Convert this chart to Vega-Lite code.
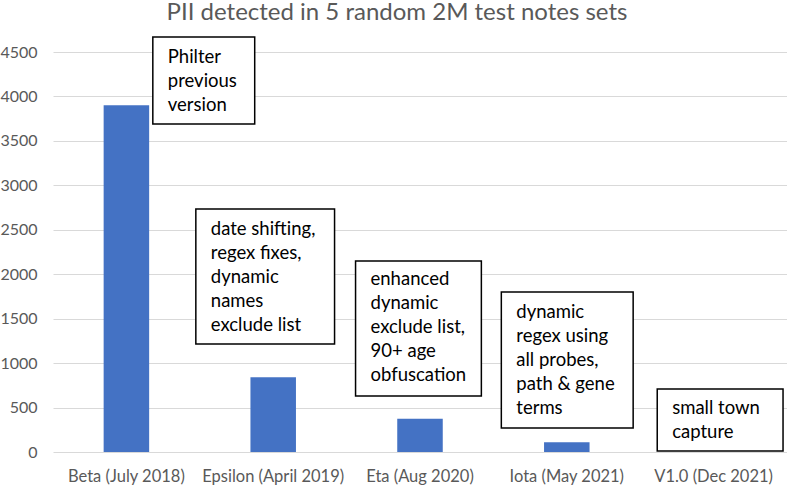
{
  "$schema": "https://vega.github.io/schema/vega-lite/v6.json",
  "width": 734,
  "height": 400,
  "autosize": {"type": "none"},
  "padding": {"left": 53, "top": 52, "right": 0, "bottom": 34},
  "background": "white",
  "title": {
    "text": "PII detected in 5 random 2M test notes sets",
    "font": "Lato",
    "fontSize": 24,
    "fontWeight": "normal",
    "color": "#595959",
    "anchor": "middle",
    "dx": -23,
    "offset": 11
  },
  "config": {
    "view": {"stroke": null},
    "font": "Lato"
  },
  "datasets": {
    "bars": [
      {"release": "Beta (July 2018)", "pii": 3900},
      {"release": "Epsilon (April 2019)", "pii": 840},
      {"release": "Eta (Aug 2020)", "pii": 375},
      {"release": "Iota (May 2021)", "pii": 110},
      {"release": "V1.0 (Dec 2021)", "pii": 0}
    ],
    "notes": [
      {"note": "Philter\nprevious\nversion", "left": 0.68, "right": 1.374, "top": 4669, "bottom": 3690, "textx": 0.782, "texty": 4444},
      {"note": "date shifting,\nregex fixes,\ndynamic\nnames\nexclude list", "left": 0.973, "right": 1.918, "top": 2734, "bottom": 1215, "textx": 1.075, "texty": 2509},
      {"note": "enhanced\ndynamic\nexclude list,\n90+ age\nobfuscation", "left": 2.061, "right": 2.918, "top": 2149, "bottom": 630, "textx": 2.163, "texty": 1946},
      {"note": "dynamic\nregex using\nall probes,\npath & gene\nterms", "left": 3.054, "right": 3.952, "top": 1800, "bottom": 270, "textx": 3.156, "texty": 1575},
      {"note": "small town\ncapture", "left": 4.116, "right": 4.973, "top": 709, "bottom": 11, "textx": 4.218, "texty": 495}
    ]
  },
  "layer": [
    {
      "data": {"name": "bars"},
      "mark": {"type": "bar", "color": "#4472C4"},
      "encoding": {
        "x": {
          "field": "release",
          "type": "nominal",
          "sort": null,
          "title": null,
          "scale": {"paddingInner": 0.69, "paddingOuter": 0.345},
          "axis": {
            "labelAngle": 0,
            "labelFont": "Lato",
            "labelFontSize": 16.5,
            "labelColor": "#595959",
            "labelPadding": 16,
            "ticks": false,
            "domain": false
          }
        },
        "y": {
          "field": "pii",
          "type": "quantitative",
          "title": null,
          "scale": {"domain": [0, 4500]},
          "axis": {
            "values": [0, 500, 1000, 1500, 2000, 2500, 3000, 3500, 4000, 4500],
            "labelFont": "Lato",
            "labelFontSize": 16,
            "labelColor": "#595959",
            "labelPadding": 16,
            "ticks": false,
            "domain": false,
            "grid": true,
            "gridColor": "#d9d9d9",
            "gridWidth": 1.2,
            "format": "d"
          }
        }
      }
    },
    {
      "data": {"name": "notes"},
      "mark": {"type": "rect", "fill": "white", "stroke": "black", "strokeWidth": 1.5},
      "encoding": {
        "x": {"field": "left", "type": "quantitative", "scale": {"domain": [0, 5]}, "axis": null},
        "x2": {"field": "right"},
        "y": {"field": "top", "type": "quantitative"},
        "y2": {"field": "bottom"}
      }
    },
    {
      "data": {"name": "notes"},
      "mark": {"type": "text", "align": "left", "baseline": "middle", "lineBreak": "\n", "lineHeight": 24, "font": "Lato", "fontSize": 18.5, "color": "black"},
      "encoding": {
        "x": {"field": "textx", "type": "quantitative", "scale": {"domain": [0, 5]}, "axis": null},
        "y": {"field": "texty", "type": "quantitative"},
        "text": {"field": "note"}
      }
    }
  ],
  "resolve": {"scale": {"x": "independent"}, "axis": {"x": "independent"}}
}
